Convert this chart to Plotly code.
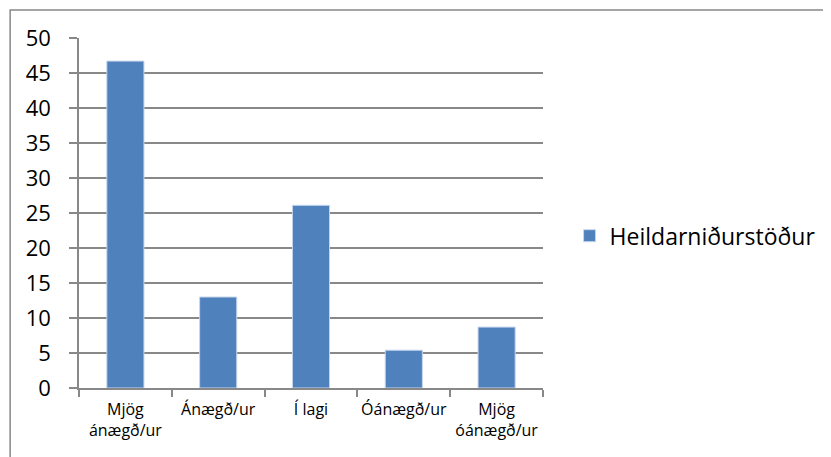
import plotly.graph_objects as go

categories = ["Mjög<br>ánægð/ur", "Ánægð/ur", "Í lagi", "Óánægð/ur", "Mjög<br>óánægð/ur"]
values = [46.7, 13.0, 26.1, 5.4, 8.7]
series_name = "Heildarniðurstöður"
y_ticks = [0, 5, 10, 15, 20, 25, 30, 35, 40, 45, 50]

font_family = "Open Sans, sans-serif"

fig = go.Figure()
fig.add_trace(go.Bar(x=categories, y=values, name=series_name,
                     marker=dict(color='#4F81BD', line=dict(color='#C6D6EC', width=1)),
                     width=0.4, showlegend=True))

# page body has an 8px margin, so the figure is drawn 8px smaller
fig.update_layout(
    width=823, height=449,
    margin=dict(l=71, r=287, t=30, b=69),
    plot_bgcolor='white', paper_bgcolor='white',
    font=dict(family=font_family, color='black'),
    showlegend=True,
    legend=dict(x=1.055, y=0.435, xanchor='left', yanchor='middle',
                font=dict(size=23, family=font_family), itemwidth=30,
                bgcolor='rgba(0,0,0,0)'),
    bargap=0.6,
)
fig.update_xaxes(type='category', showline=True, linecolor='#888888', linewidth=1.5,
                 ticks='outside', tickson='boundaries', ticklen=7, tickcolor='#888888',
                 tickwidth=1.5, tickfont=dict(size=16), showgrid=False,
                 ticklabelstandoff=6, tickangle=0, automargin=False)
fig.update_yaxes(range=[0, 50], tickvals=y_ticks, showline=True, linecolor='#888888',
                 linewidth=1.5, ticks='outside', ticklen=8, tickcolor='#888888',
                 tickwidth=1.5, showgrid=True, gridcolor='#888888', gridwidth=1.5,
                 zeroline=False, tickfont=dict(size=22), ticklabelstandoff=14,
                 automargin=False)

# outer chart border
fig.add_shape(type='rect', xref='paper', yref='paper',
              x0=(2 - 71) / 465, x1=(840 - 71) / 465,
              y0=(380 - 470) / 350, y1=(380 - 2) / 350,
              line=dict(color='#888888', width=1.5), layer='below')

fig.write_html("out.html")
